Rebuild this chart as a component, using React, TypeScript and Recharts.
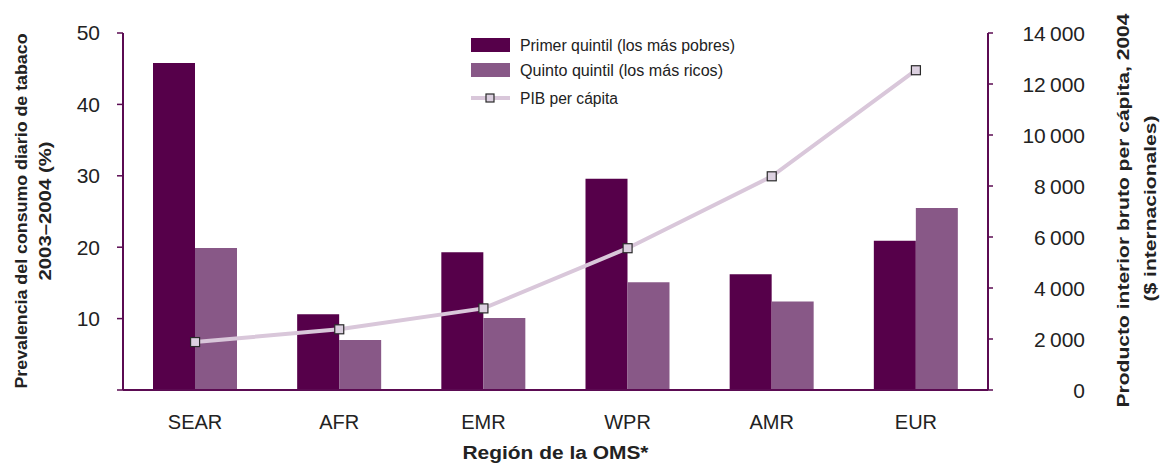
import React from 'react';
import { ComposedChart, Bar, Line, XAxis, YAxis, Label } from 'recharts';

const regions = ['SEAR', 'AFR', 'EMR', 'WPR', 'AMR', 'EUR'];
const poorest = [45.8, 10.6, 19.3, 29.6, 16.2, 20.9];
const richest = [19.9, 7.0, 10.1, 15.1, 12.4, 25.5];
const gdp = [1880, 2380, 3200, 5560, 8380, 12540];

const leftTicks = [0, 10, 20, 30, 40, 50];
const rightTicks = [0, 2000, 4000, 6000, 8000, 10000, 12000, 14000];

const legendNames = ['Primer quintil (los más pobres)', 'Quinto quintil (los más ricos)', 'PIB per cápita'];

const data = regions.map((r, i) => ({ region: r, poor: poorest[i], rich: richest[i], gdp: gdp[i] }));

const AXIS = '#5b0b52';
const DARK = '#56004a';
const LIGHT = '#885887';
const LINE = '#d9c7da';
const SANS = '"Liberation Sans", Arial, sans-serif';

const fmt = (v: number) => (v >= 1000 ? `${Math.floor(v / 1000)}\u2009${String(v % 1000).padStart(3, '0')}` : String(v));

// condensed look: squeeze Liberation Sans to a given length
const Narrow = ({ len, children, ...rest }: any) => (
  <text fontFamily={SANS} textLength={len} lengthAdjust="spacingAndGlyphs" fill="#222" {...rest}>
    {children}
  </text>
);

const SquareDot = (props: any) => {
  const { cx, cy } = props;
  if (cx == null || cy == null) return null;
  return <rect x={cx - 4.5} y={cy - 4.5} width={9} height={9} fill="#dcd0e0" stroke="#2a2a2a" strokeWidth={1.2} />;
};

const RightTick = (props: any) => {
  const { x, y, payload } = props;
  return (
    <text x={x + 90} y={y} dy="0.36em" textAnchor="end" fontFamily={SANS} fontSize={21} fill="#222">
      {fmt(payload.value)}
    </text>
  );
};

const LeftTitle = (props: any) => {
  const vb = props.viewBox || { x: 0, y: 33, width: 123, height: 357 };
  const cy = vb.y + vb.height / 2;
  return (
    <g transform={`translate(0, ${cy}) rotate(-90)`}>
      <Narrow x={-177} y={27} len={355} fontSize={17} fontWeight="bold">Prevalencia del consumo diario de tabaco</Narrow>
      <Narrow x={-69} y={51} len={139} fontSize={17} fontWeight="bold">2003–2004 (%)</Narrow>
    </g>
  );
};

const RightTitle = (props: any) => {
  const vb = props.viewBox || { x: 988, y: 33, width: 177, height: 357 };
  return (
    <g transform={`translate(${vb.x + vb.width}, ${vb.y + vb.height / 2}) rotate(-90)`}>
      <Narrow x={-196} y={-36} len={394} fontSize={17} fontWeight="bold">Producto interior bruto per cápita, 2004</Narrow>
      <Narrow x={-90} y={-9} len={186} fontSize={17} fontWeight="bold">($ internacionales)</Narrow>
    </g>
  );
};

const BottomTitle = (props: any) => {
  const vb = props.viewBox || { x: 123, y: 390, width: 865, height: 75 };
  const cx = vb.x + vb.width / 2;
  return (
    <Narrow x={cx - 93} y={vb.y + 69} len={186} fontSize={18} fontWeight="bold">Región de la OMS*</Narrow>
  );
};

const LegendOverlay = () => (
  <svg width={320} height={90} style={{ position: 'absolute', left: 460, top: 28 }}>
    <rect x={11} y={10} width={39} height={14} fill={DARK} />
    <Narrow x={60} y={23} len={215} fontSize={16}>{legendNames[0]}</Narrow>
    <rect x={11} y={35} width={39} height={14} fill={LIGHT} />
    <Narrow x={60} y={48} len={203} fontSize={16}>{legendNames[1]}</Narrow>
    <line x1={11} y1={70} x2={50} y2={70} stroke={LINE} strokeWidth={4} />
    <rect x={26} y={66} width={8} height={8} fill="#dcd0e0" stroke="#2a2a2a" strokeWidth={1.2} />
    <Narrow x={60} y={76} len={98} fontSize={16}>{legendNames[2]}</Narrow>
  </svg>
);

export default function App() {
  return (
    <div style={{ position: 'absolute', left: 0, top: 0, width: 1165, height: 465, background: '#fff' }}>
      <ComposedChart width={1165} height={465} data={data} margin={{ top: 33, right: 0, left: 0, bottom: 0 }} barGap={0}>
        <XAxis
          dataKey="region"
          height={75}
          axisLine={{ stroke: AXIS, strokeWidth: 2 }}
          tickLine={false}
          tickSize={6}
          tickMargin={19}
          tick={{ fontFamily: SANS, fontSize: 20, fill: '#222' }}
        >
          <Label content={BottomTitle} />
        </XAxis>
        <YAxis
          yAxisId="left"
          width={123}
          domain={[0, 50]}
          ticks={leftTicks}
          tickFormatter={(v: number) => (v === 0 ? '' : String(v))}
          axisLine={{ stroke: AXIS, strokeWidth: 2 }}
          tickLine={{ stroke: AXIS, strokeWidth: 1.5 }}
          tickSize={6}
          tickMargin={17}
          tick={{ fontFamily: SANS, fontSize: 21, fill: '#222' }}
        >
          <Label content={LeftTitle} />
        </YAxis>
        <YAxis
          yAxisId="right"
          orientation="right"
          width={177}
          domain={[0, 14000]}
          ticks={rightTicks}
          axisLine={{ stroke: AXIS, strokeWidth: 2 }}
          tickLine={{ stroke: AXIS, strokeWidth: 1.5 }}
          tickSize={5}
          tick={<RightTick />}
        >
          <Label content={RightTitle} />
        </YAxis>
        <Bar yAxisId="left" dataKey="poor" fill={DARK} barSize={42} isAnimationActive={false} />
        <Bar yAxisId="left" dataKey="rich" fill={LIGHT} barSize={42} isAnimationActive={false} />
        <Line
          yAxisId="right"
          dataKey="gdp"
          type="linear"
          stroke={LINE}
          strokeWidth={4}
          dot={<SquareDot />}
          activeDot={false}
          isAnimationActive={false}
        />
      </ComposedChart>
      <LegendOverlay />
    </div>
  );
}
